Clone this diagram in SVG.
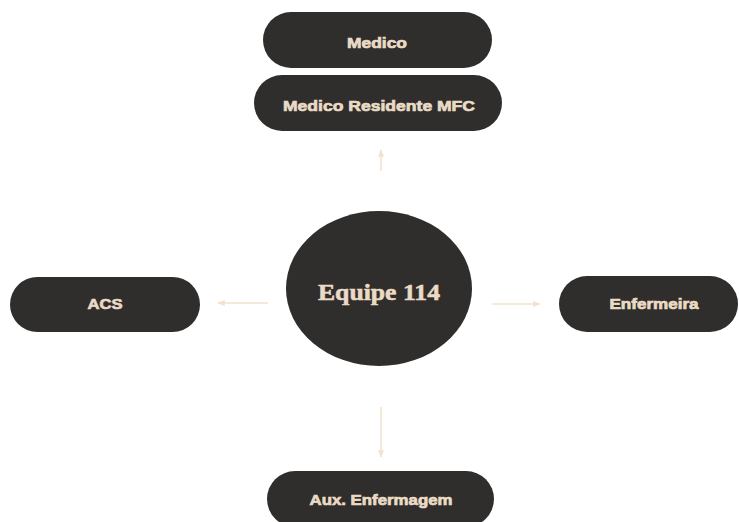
<svg xmlns="http://www.w3.org/2000/svg" width="739" height="522" viewBox="0 0 739 522">
<defs>
<style>
.pill{fill:#2f2e2d;}
.lbl{font-family:"Liberation Sans",Arial,sans-serif;font-weight:bold;font-size:15px;fill:#eadbc5;text-anchor:middle;stroke:#eadbc5;stroke-width:0.7;}
.title{font-family:"Liberation Serif","Times New Roman",serif;font-weight:bold;font-size:24px;fill:#eadbc5;text-anchor:middle;stroke:#eadbc5;stroke-width:0.6;}
.conn{stroke:#f2e2cd;stroke-width:1.5;fill:none;marker-end:url(#ah);}
</style>
<marker id="ah" viewBox="0 0 10 10" refX="9" refY="5" markerWidth="5" markerHeight="5" orient="auto" markerUnits="strokeWidth">
<path d="M0,1 L10,5 L0,9 z" fill="#f2e2cd"/>
</marker>
</defs>
<rect width="739" height="522" fill="#ffffff"/>
<g id="connectors">
<line class="conn" x1="381" y1="171" x2="381" y2="150"/>
<line class="conn" x1="268" y1="303" x2="218" y2="303"/>
<line class="conn" x1="492" y1="304" x2="540" y2="304"/>
<line class="conn" x1="381" y1="407" x2="381" y2="457"/>
</g>
<g id="medico">
<rect class="pill" x="263" y="12" width="229" height="56" rx="28"/>
<text class="lbl" x="377" y="48" textLength="60" lengthAdjust="spacingAndGlyphs">Medico</text>
</g>
<g id="medico-residente">
<rect class="pill" x="254" y="75" width="248" height="56" rx="28"/>
<text class="lbl" x="379" y="111" textLength="192" lengthAdjust="spacingAndGlyphs">Medico Residente MFC</text>
</g>
<g id="equipe">
<ellipse class="pill" cx="379" cy="288.5" rx="93" ry="77.5"/>
<text class="title" x="379" y="300" textLength="122" lengthAdjust="spacingAndGlyphs">Equipe 114</text>
</g>
<g id="acs">
<rect class="pill" x="10" y="277" width="190" height="55" rx="27.5"/>
<text class="lbl" x="105" y="309" textLength="35" lengthAdjust="spacingAndGlyphs">ACS</text>
</g>
<g id="enfermeira">
<rect class="pill" x="559" y="276" width="179" height="56" rx="28"/>
<text class="lbl" x="654" y="309" textLength="89" lengthAdjust="spacingAndGlyphs">Enfermeira</text>
</g>
<g id="aux-enfermagem">
<rect class="pill" x="267" y="471" width="227" height="56" rx="28"/>
<text class="lbl" x="381" y="505" textLength="143" lengthAdjust="spacingAndGlyphs">Aux. Enfermagem</text>
</g>
</svg>
